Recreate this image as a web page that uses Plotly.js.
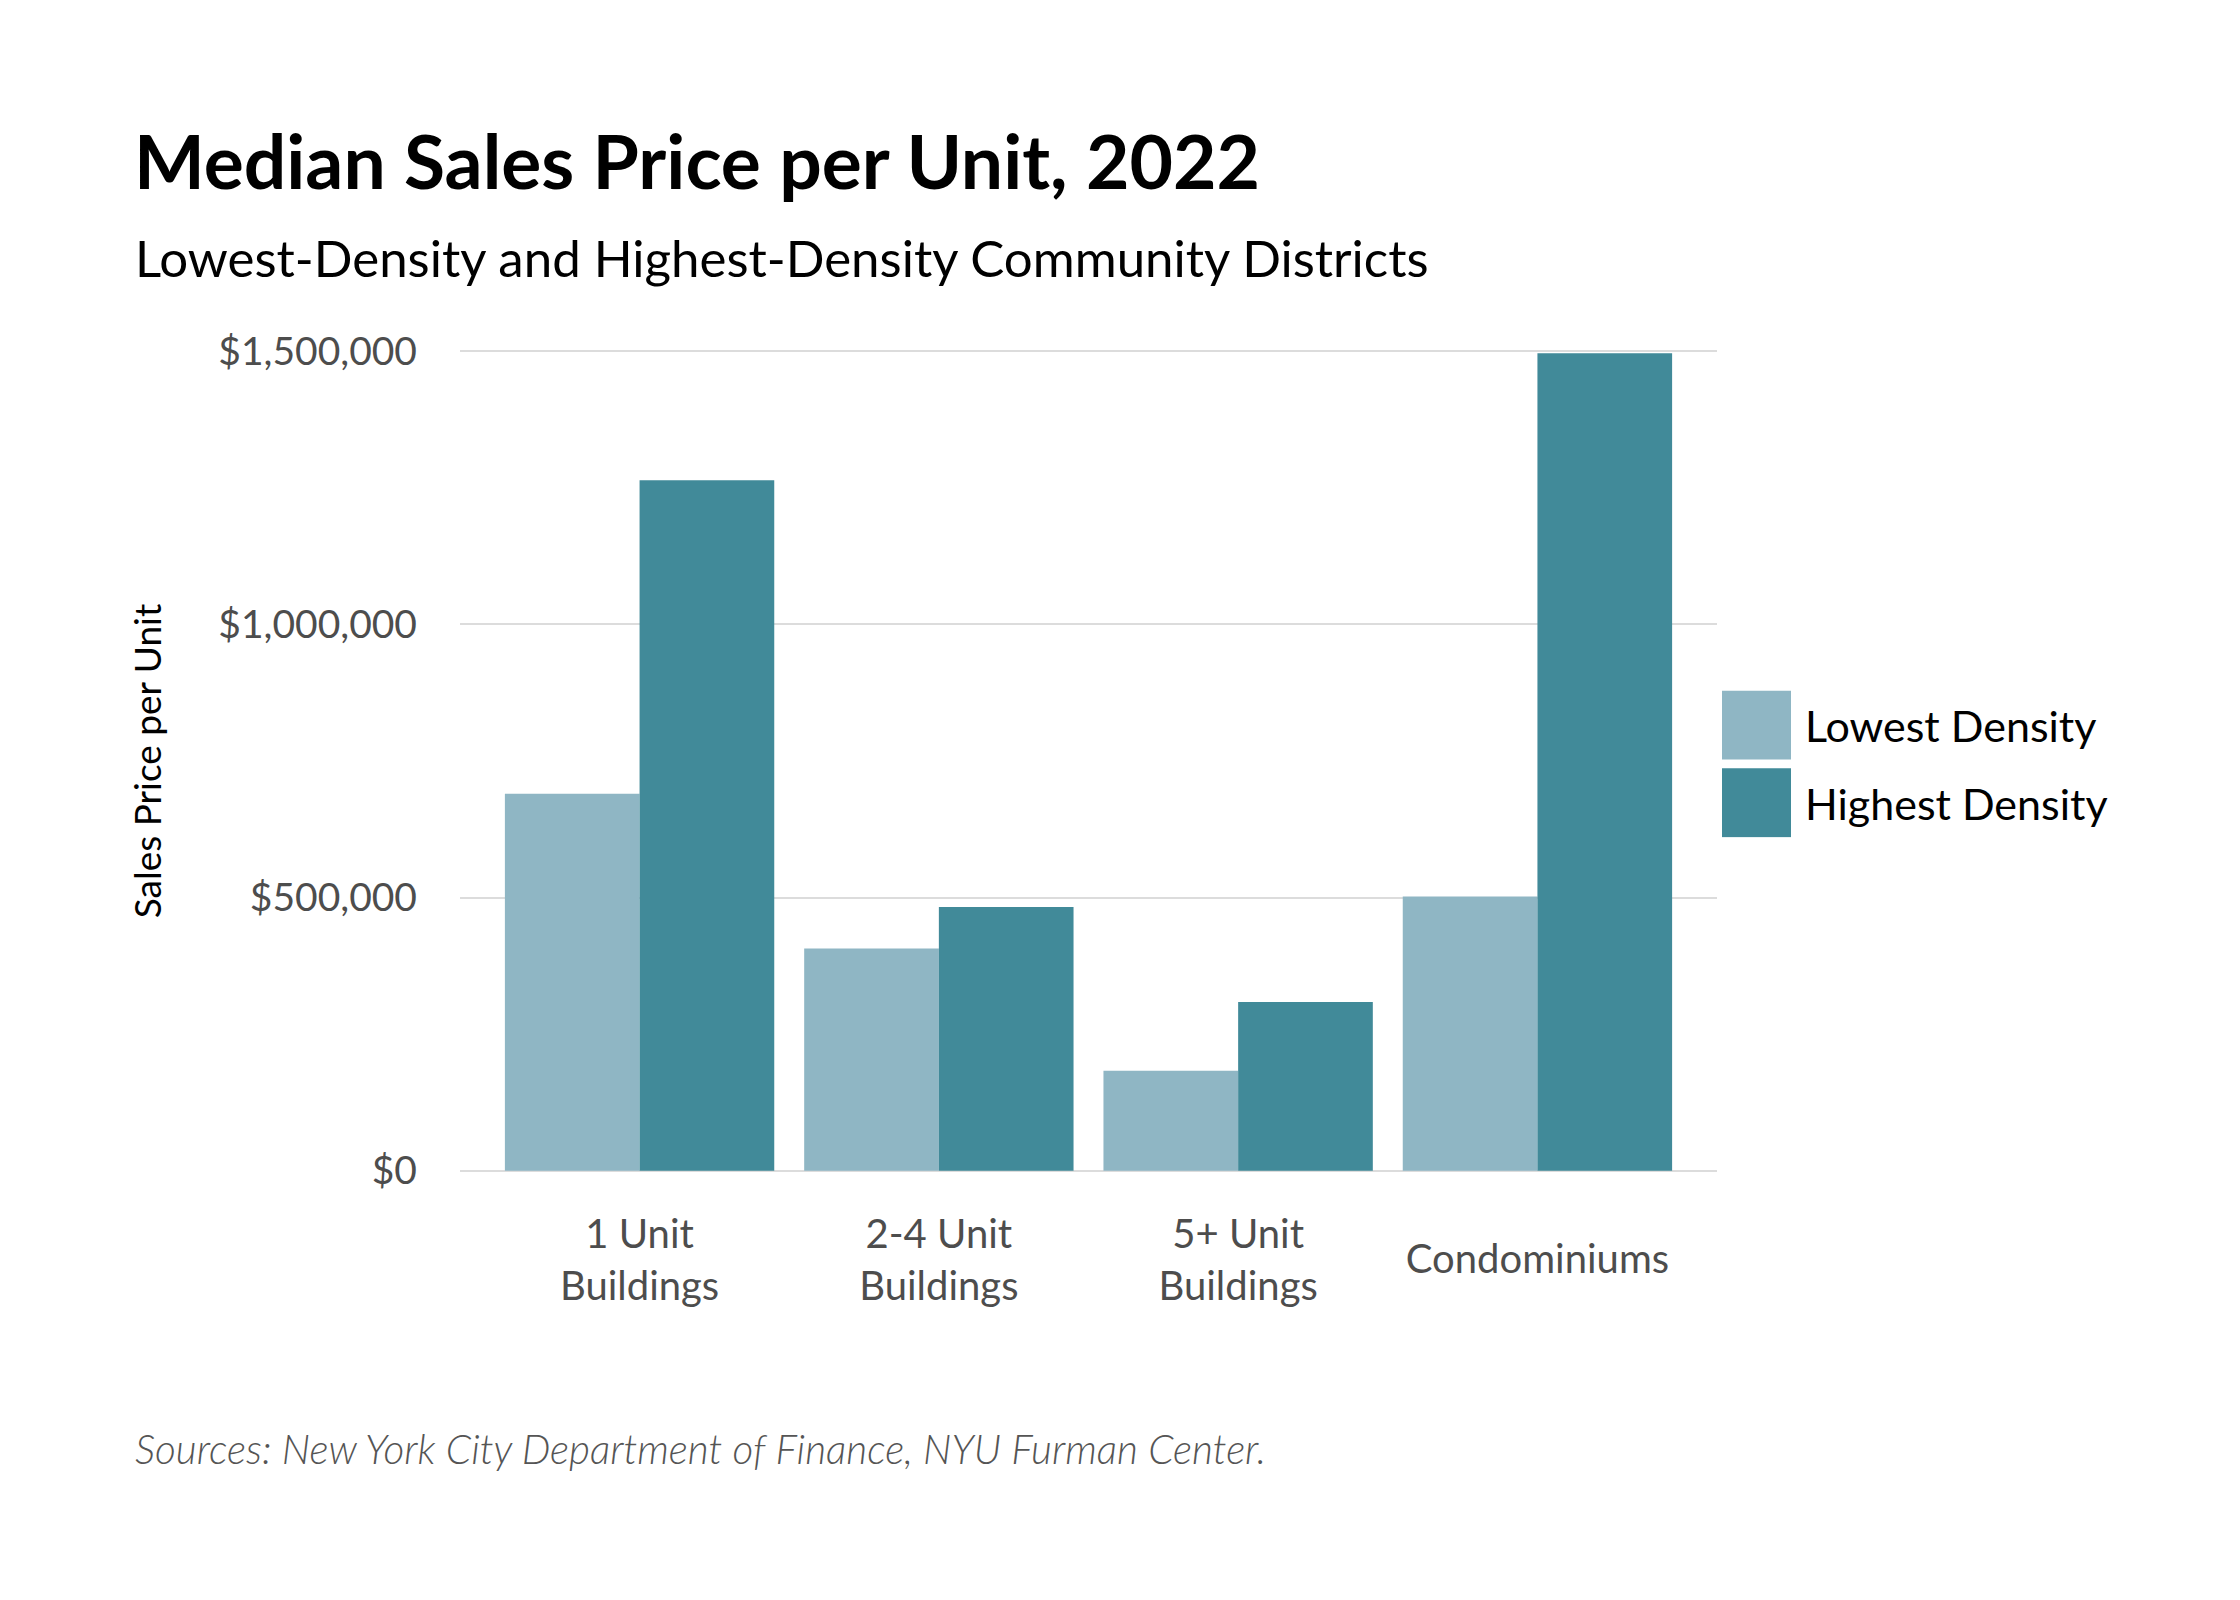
<!DOCTYPE html>
<html>
<head>
<meta charset="utf-8">
<script src="https://cdn.plot.ly/plotly-3.0.1.min.js"></script>
<style>
  html, body { margin: 0; padding: 0; background: #ffffff; }
  #chart { width: 2240px; height: 1600px; }
</style>
</head>
<body>
<div id="chart"></div>
<script>
// ---- Data ----
const categories = ["1 Unit Buildings", "2-4 Unit Buildings", "5+ Unit Buildings", "Condominiums"];
const xTickText = ["1 Unit<br>Buildings", "2-4 Unit<br>Buildings", "5+ Unit<br>Buildings",
                   "<span style=\"baseline-shift:-0.62em\">Condominiums</span>"];
const lowestDensity = [690000, 407000, 183000, 502000];
const highestDensity = [1264000, 483000, 309000, 1496000];
const seriesNames = ["Lowest Density", "Highest Density"];
const yTickVals = [0, 500000, 1000000, 1500000];
const yTickText = ["$0", "$500,000", "$1,000,000", "$1,500,000"];

const titleText = "Median Sales Price per Unit, 2022";
const subtitleText = "Lowest-Density and Highest-Density Community Districts";
const yTitleText = "Sales Price per Unit";
const sourceText = "Sources: New York City Department of Finance, NYU Furman Center.";

const FONT = "Lato, 'Open Sans', 'Noto Sans', sans-serif";
const LIGHT = "#8fb6c4";
const DARK = "#418a99";

// plot-area geometry in page pixels (used only to place page texts)
const PLOT_L = 460, PLOT_R = 1717, PLOT_T = 349, PLOT_B = 1173;
const toPX = px => (px - PLOT_L) / (PLOT_R - PLOT_L);
const toPY = py => (PLOT_B - py) / (PLOT_B - PLOT_T);

const traces = [
  {
    type: "bar", name: seriesNames[0], x: categories, y: lowestDensity,
    marker: { color: LIGHT, line: { width: 0 } }, legendgroup: "a", hoverinfo: "skip"
  },
  {
    type: "bar", name: seriesNames[1], x: categories, y: highestDensity,
    marker: { color: DARK, line: { width: 0 } }, legendgroup: "b", hoverinfo: "skip"
  }
];

const layout = {
  width: 2240, height: 1600,
  paper_bgcolor: "#ffffff", plot_bgcolor: "#ffffff",
  margin: { l: PLOT_L, r: 2240 - PLOT_R, t: PLOT_T, b: 1600 - PLOT_B, pad: 0 },
  font: { family: FONT, color: "#000000" },
  barmode: "group", bargap: 0.1, bargroupgap: 0,
  title: {
    text: "<b>" + titleText + "</b>",
    font: { family: FONT, size: 75, color: "#000000" },
    x: 134 / 2240, xref: "container", xanchor: "left",
    y: 1 - 136 / 1600, yref: "container", yanchor: "top"
  },
  xaxis: {
    type: "category", range: [-0.6, 3.6], fixedrange: true,
    tickmode: "array", tickvals: categories, ticktext: xTickText,
    showgrid: false, zeroline: false, showline: false, ticks: "",
    tickfont: { family: FONT, size: 40, color: "#4d4d4d" },
    ticklabelstandoff: 34
  },
  yaxis: {
    range: [-4000, 1504000], fixedrange: true,
    tickvals: yTickVals, ticktext: yTickText,
    showgrid: true, gridcolor: "#dcdcdc", gridwidth: 2,
    zeroline: false, showline: false, ticks: "",
    tickfont: { family: FONT, size: 39, color: "#4d4d4d" },
    ticklabelstandoff: 42,
    title: { text: yTitleText, font: { family: FONT, size: 37, color: "#000000" }, standoff: 45 }
  },
  showlegend: true,
  legend: {
    x: 1.0, xanchor: "left", y: 0.4964, yanchor: "middle",
    font: { family: FONT, size: 43, color: "#000000" },
    itemwidth: 78, traceorder: "grouped", tracegroupgap: 19,
    bgcolor: "rgba(0,0,0,0)", borderwidth: 0
  },
  annotations: [
    {
      text: subtitleText,
      xref: "paper", yref: "paper",
      x: toPX(133), xanchor: "left",
      y: toPY(290), yanchor: "bottom",
      showarrow: false,
      font: { family: FONT, size: 51, color: "#000000" }
    },
    {
      text: "<i>" + sourceText + "</i>",
      xref: "paper", yref: "paper",
      x: toPX(133), xanchor: "left",
      y: toPY(1475), yanchor: "bottom",
      showarrow: false,
      font: { family: FONT, size: 40.5, color: "#555555", weight: 300 }
    }
  ]
};

const gd = document.getElementById("chart");
function enlargeLegendSwatches() {
  gd.querySelectorAll(".legend path.legendbar, .legend .legendpoints path").forEach(p => {
    p.setAttribute("d", "M30,34.5H-39V-34.5H30Z");
  });
}
Plotly.newPlot(gd, traces, layout, { displayModeBar: false, staticPlot: true }).then(() => {
  enlargeLegendSwatches();
  gd.on && gd.on("plotly_afterplot", enlargeLegendSwatches);
});
</script>
</body>
</html>
